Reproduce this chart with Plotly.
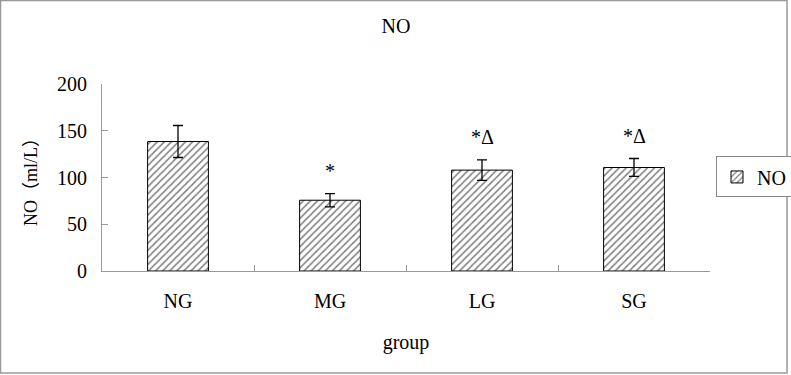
import plotly.graph_objects as go

categories = ["NG", "MG", "LG", "SG"]
values = [138.5, 75.7, 107.9, 110.7]
errors = [17.1, 7.1, 11.0, 9.6]
marks = ["", "*", "*Δ", "*Δ"]
y_ticks = [0, 50, 100, 150, 200]

FONT = "Liberation Serif, Times New Roman, Noto Sans CJK SC, serif"
FS = 20

fig = go.Figure()
fig.add_trace(go.Bar(
    x=categories, y=values, name="NO", width=0.4,
    marker=dict(color="white", line=dict(color="black", width=1),
                pattern=dict(shape="/", fgcolor="black", bgcolor="white", size=5, solidity=0.3)),
    error_y=dict(type="data", array=errors, visible=True, color="black", thickness=1.3, width=5),
))

for c, v, e, m in zip(categories, values, errors, marks):
    if m:
        fig.add_annotation(x=c, y=v + e, text=m, showarrow=False, yanchor="bottom",
                           yshift=10, font=dict(family=FONT, size=FS, color="black"))

# outer chart border
L, R, T, B = 102, 81, 84, 104
pw, ph = 791 - L - R, 375 - T - B
fig.add_shape(type="rect", xref="paper", yref="paper",
              x0=(0.5 - L) / pw, x1=(787 - L) / pw,
              y0=-(373 - (375 - B)) / ph, y1=1 + (T - 0.5) / ph,
              line=dict(color="#999999", width=1.5))

fig.update_layout(
    width=791, height=375,
    margin=dict(l=L, r=R, t=T, b=B, autoexpand=False),
    paper_bgcolor="white", plot_bgcolor="white",
    font=dict(family=FONT, size=FS, color="black"),
    title=dict(text="NO", x=(396 - L) / pw, xref="paper", xanchor="center", y=1 - 26 / 375,
               yanchor="middle", font=dict(family=FONT, size=FS, color="black")),
    showlegend=True,
    legend=dict(x=(716 - L) / pw, y=0.503, xanchor="left", yanchor="middle",
                bordercolor="#888888", borderwidth=1, font=dict(family=FONT, size=FS),
                itemwidth=30, tracegroupgap=0),
    bargap=0.6,
)
fig.update_xaxes(showline=True, linecolor="#999999", linewidth=1, ticks="inside",
                 tickcolor="#999999", ticklen=6, tickson="boundaries", showgrid=False,
                 automargin=False, ticklabelstandoff=12,
                 title=dict(text="group", standoff=23, font=dict(family=FONT, size=FS)),
                 tickfont=dict(family=FONT, size=FS))
fig.update_yaxes(range=[0, 200], tickvals=y_ticks, showline=True, linecolor="#999999", linewidth=1,
                 ticks="inside", tickcolor="#999999", ticklen=6, showgrid=False, zeroline=False,
                 automargin=False, ticklabelstandoff=10,
                 title=dict(text="NO（ml/L）", standoff=14, font=dict(family=FONT, size=18)),
                 tickfont=dict(family=FONT, size=FS))

fig.write_html("out.html", config={"displayModeBar": False},
               post_script="document.body.style.margin='0';document.body.style.overflow='hidden';")
